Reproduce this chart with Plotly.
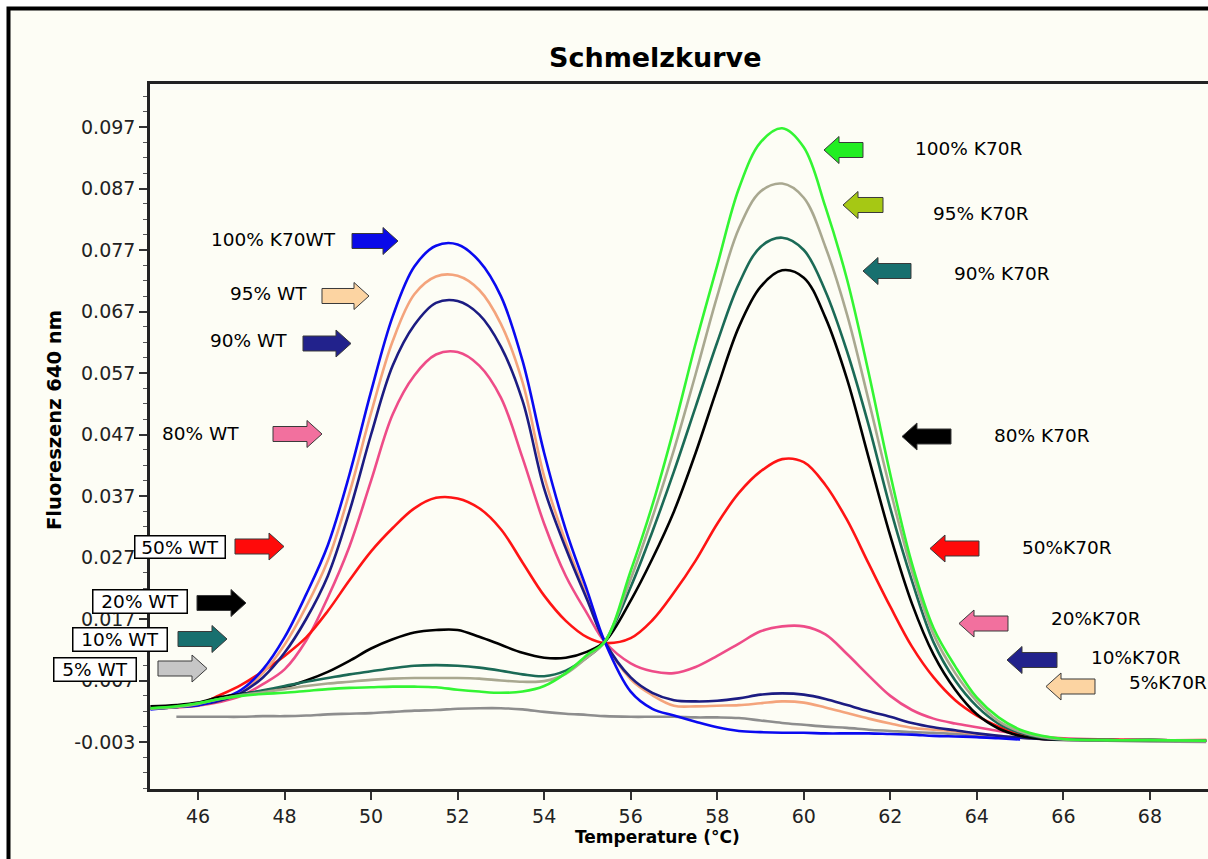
import plotly.graph_objects as go

# ---------------- data ----------------
temp = [44.9, 45.5, 46, 46.5, 47, 47.5, 48, 48.5, 49, 49.5, 50, 50.5, 51, 51.5, 52, 52.5,
        53, 53.5, 54, 54.5, 55, 55.4, 56, 56.5, 57, 57.5, 58, 58.5, 59, 59.5, 60, 60.5,
        61, 61.5, 62, 62.5, 63, 63.5, 64, 64.5, 65, 65.5, 66, 67, 68, 69.3]

wt100 = [0.0023, 0.0027, 0.0030, 0.0039, 0.0055, 0.0088, 0.0140, 0.0210, 0.0290, 0.0405, 0.0540, 0.0662,
         0.0743, 0.0777, 0.0779, 0.0752, 0.0695, 0.0590, 0.0440, 0.0315, 0.0215, 0.0133, 0.0052, 0.0024,
         0.0013, 0.0003, -0.0006, -0.0012, -0.0014, -0.0015, -0.0015, -0.0016, -0.0016, -0.0016, -0.0017,
         -0.0018, -0.0020, -0.0021, -0.0022, -0.0024, -0.0026, None, None, None, None, None]

wt95 = [0.0024, 0.0027, 0.0030, 0.0038, 0.0052, 0.0082, 0.0128, 0.0190, 0.0265, 0.0375, 0.0505, 0.0622,
        0.0698, 0.0727, 0.0728, 0.0705, 0.0650, 0.0555, 0.0402, 0.0295, 0.0205, 0.0133, 0.0072, 0.0046,
        0.0029, 0.0028, 0.0029, 0.0030, 0.0033, 0.0036, 0.0034, 0.0026, 0.0017, 0.0008, 0.0000, -0.0007,
        -0.0010, -0.0013, -0.0017, -0.0020, -0.0023, -0.0025, -0.0026, -0.0027, -0.0027, -0.0028]

wt90 = [0.0024, 0.0027, 0.0030, 0.0037, 0.0050, 0.0075, 0.0115, 0.0170, 0.0240, 0.0345, 0.0470, 0.0582,
        0.0648, 0.0684, 0.0687, 0.0665, 0.0613, 0.0525, 0.0382, 0.0285, 0.0200, 0.0133, 0.0075, 0.0050,
        0.0038, 0.0036, 0.0037, 0.0041, 0.0047, 0.0049, 0.0047, 0.0040, 0.0030, 0.0020, 0.0011, 0.0001,
        -0.0006, -0.0011, -0.0016, -0.0020, -0.0023, -0.0025, -0.0026, -0.0027, -0.0027, -0.0028]

wt80 = [0.0024, 0.0026, 0.0029, 0.0035, 0.0045, 0.0064, 0.0088, 0.0135, 0.0205, 0.0288, 0.0395, 0.0503,
        0.0566, 0.0600, 0.0604, 0.0582, 0.0530, 0.0432, 0.0325, 0.0240, 0.0178, 0.0133, 0.0098, 0.0085,
        0.0082, 0.0092, 0.0110, 0.0130, 0.0150, 0.0158, 0.0158, 0.0145, 0.0113, 0.0078, 0.0045, 0.0022,
        0.0008, 0.0000, -0.0006, -0.0012, -0.0017, -0.0021, -0.0024, -0.0026, -0.0027, -0.0028]

wt50 = [0.0024, 0.0027, 0.0031, 0.0046, 0.0063, 0.0085, 0.0110, 0.0140, 0.0183, 0.0233, 0.0280, 0.0318,
        0.0350, 0.0367, 0.0366, 0.0350, 0.0316, 0.0262, 0.0208, 0.0167, 0.0140, 0.0131, 0.0139, 0.0168,
        0.0213, 0.0265, 0.0325, 0.0375, 0.0410, 0.0430, 0.0425, 0.0388, 0.0331, 0.0260, 0.0190, 0.0125,
        0.0075, 0.0038, 0.0013, -0.0005, -0.0018, -0.0023, -0.0025, -0.0026, -0.0027, -0.0027]

wt20 = [0.0028, 0.0030, 0.0034, 0.0043, 0.0048, 0.0053, 0.0059, 0.0070, 0.0084, 0.0102, 0.0122, 0.0137,
        0.0148, 0.0152, 0.0152, 0.0141, 0.0128, 0.0115, 0.0107, 0.0107, 0.0117, 0.0133, 0.0200, 0.0268,
        0.0345, 0.0440, 0.0545, 0.0645, 0.0710, 0.0737, 0.0725, 0.0660, 0.0560, 0.0432, 0.0305, 0.0195,
        0.0112, 0.0055, 0.0015, -0.0008, -0.0020, -0.0025, -0.0026, -0.0027, -0.0027, -0.0028]

wt10 = [0.0024, 0.0027, 0.0032, 0.0040, 0.0047, 0.0054, 0.0061, 0.0068, 0.0074, 0.0080, 0.0085, 0.0090,
        0.0094, 0.0095, 0.0094, 0.0091, 0.0086, 0.0080, 0.0077, 0.0086, 0.0108, 0.0133, 0.0222, 0.0312,
        0.0410, 0.0515, 0.0620, 0.0715, 0.0775, 0.0790, 0.0770, 0.0703, 0.0605, 0.0485, 0.0350, 0.0232,
        0.0132, 0.0070, 0.0028, 0.0000, -0.0015, -0.0023, -0.0026, -0.0027, -0.0027, -0.0028]

wt5 = [0.0024, 0.0027, 0.0032, 0.0040, 0.0046, 0.0051, 0.0056, 0.0061, 0.0065, 0.0068, 0.0071, 0.0073,
       0.0074, 0.0074, 0.0074, 0.0073, 0.0070, 0.0068, 0.0069, 0.0081, 0.0108, 0.0133, 0.0235, 0.0335,
       0.0445, 0.0568, 0.0695, 0.0805, 0.0865, 0.0878, 0.0855, 0.0775, 0.0665, 0.0525, 0.0380, 0.0248,
       0.0145, 0.0082, 0.0036, 0.0004, -0.0013, -0.0022, -0.0026, -0.0027, -0.0027, -0.0028]

k70r100 = [0.0025, 0.0028, 0.0033, 0.0040, 0.0045, 0.0048, 0.0050, 0.0053, 0.0056, 0.0058, 0.0059, 0.0060,
           0.0060, 0.0059, 0.0055, 0.0052, 0.0050, 0.0052, 0.0061, 0.0082, 0.0112, 0.0133, 0.0248, 0.0355,
           0.0480, 0.0618, 0.0745, 0.0870, 0.0945, 0.0968, 0.0937, 0.0840, 0.0722, 0.0570, 0.0405, 0.0260,
           0.0155, 0.0093, 0.0042, 0.0010, -0.0010, -0.0020, -0.0025, -0.0027, -0.0027, -0.0028]

control = [None, 0.0011, 0.0011, 0.0011, 0.0011, 0.0012, 0.0012, 0.0013, 0.0015, 0.0016, 0.0017, 0.0019,
           0.0021, 0.0022, 0.0024, 0.0025, 0.0025, 0.0023, 0.0019, 0.0016, 0.0014, 0.0012, 0.0011, 0.0011,
           0.0011, 0.0010, 0.0010, 0.0009, 0.0005, 0.0001, -0.0002, -0.0005, -0.0007, -0.0010, -0.0012,
           -0.0014, -0.0015, -0.0017, -0.0019, -0.0021, -0.0023, -0.0025, -0.0027, -0.0028, -0.0029, -0.0030]

series = [
    ("control", control, "#8e8e8e"),
    ("80% WT / 20% K70R", wt80, "#ee4c88"),
    ("50% WT / 50% K70R", wt50, "#ff1414"),
    ("95% WT / 5% K70R", wt95, "#f4a47c"),
    ("90% WT / 10% K70R", wt90, "#1c1c82"),
    ("100% K70WT", wt100, "#0a0af0"),
    ("20% WT / 80% K70R", wt20, "#000000"),
    ("10% WT / 90% K70R", wt10, "#1b6a56"),
    ("5% WT / 95% K70R", wt5, "#a9a890"),
    ("100% K70R", k70r100, "#33f533"),
]

x_tick_values = [46, 48, 50, 52, 54, 56, 58, 60, 62, 64, 66, 68]
x_tick_labels = ["46", "48", "50", "52", "54", "56", "58", "60", "62", "64", "66", "68"]
y_tick_values = [-0.003, 0.007, 0.017, 0.027, 0.037, 0.047, 0.057, 0.067, 0.077, 0.087, 0.097]
y_tick_labels = ["-0.003", "0.007", "0.017", "0.027", "0.037", "0.047", "0.057", "0.067", "0.077",
                 "0.087", "0.097"]

left_labels = [
    ("100% K70WT", False, "#0a0ae8"),
    ("95% WT", False, "#fcd4a2"),
    ("90% WT", False, "#22228c"),
    ("80% WT", False, "#f2709e"),
    ("50% WT", True, "#ff0a0a"),
    ("20% WT", True, "#000000"),
    ("10% WT", True, "#18706f"),
    ("5% WT", True, "#c6c6c6"),
]
right_labels = [
    ("100% K70R", "#22ee22"),
    ("95% K70R", "#a6c814"),
    ("90% K70R", "#18706f"),
    ("80% K70R", "#000000"),
    ("50%K70R", "#ff0a0a"),
    ("20%K70R", "#f2709e"),
    ("10%K70R", "#22228c"),
    ("5%K70R", "#fcd4a2"),
]

# ---------------- layout geometry (pixels) ----------------
W_IMG, H_IMG = 1208, 859
L, R_EDGE, T, B = 150, 1208, 84, 789
PW, PH = R_EDGE - L, B - T


def pp(px, py):
    return (px - L) / PW, (B - py) / PH


X_PER_PX = 1 / 43.27
x0 = 46 - (198 - L) * X_PER_PX
x1 = x0 + PW * X_PER_PX
Y_PER_PX = 0.01 / 61.5
y_top = 0.097 + (127 - T) * Y_PER_PX
y_bot = 0.097 - (B - 127) * Y_PER_PX

FONT = "DejaVu Sans"

fig = go.Figure()
for name, vals, col in series:
    fig.add_trace(go.Scatter(x=temp, y=vals, mode="lines", name=name,
                             line=dict(color=col, width=2.6, shape="spline", smoothing=1.0),
                             connectgaps=False, hoverinfo="skip"))

shapes = []
annotations = []

# outer frame
fx0, fy0 = pp(8.5, 8.5)
fx1, fy1 = pp(1230, 880)
shapes.append(dict(type="rect", xref="paper", yref="paper", x0=fx0, y0=fy1, x1=fx1, y1=fy0,
                   line=dict(color="black", width=4), fillcolor="#fdfdf5", layer="below"))


def block_arrow(x_tail, x_tip, yc, fill, bh=7.5, hh=13.5, hl=15):
    s = 1 if x_tip > x_tail else -1
    xb = x_tip - s * hl
    pts = [(x_tail, yc - bh), (xb, yc - bh), (xb, yc - hh), (x_tip, yc),
           (xb, yc + hh), (xb, yc + bh), (x_tail, yc + bh)]
    d = "M " + " L ".join("%.5f,%.5f" % pp(a, b) for a, b in pts) + " Z"
    return dict(type="path", xref="paper", yref="paper", path=d, fillcolor=fill,
                line=dict(color="#3a3a3a", width=1), layer="above")


left_pos = [
    (209, 239, None, (352, 398, 241)),
    (228, 293, None, (322, 369, 296)),
    (208, 340, None, (303, 351, 343.5)),
    (160, 433, None, (273, 322, 434)),
    (179.5, 546.5, (93, 25), (235, 284, 546.5)),
    (139.5, 601, (97, 26), (197, 246, 603)),
    (119.5, 639, (97, 26), (178, 227, 639)),
    (94.5, 669, (85, 26), (158, 207, 668.5)),
]
for (txt, boxed, col), (tx, ty, box, arr) in zip(left_labels, left_pos):
    shapes.append(block_arrow(arr[0], arr[1], arr[2], col))
    ax, ay = pp(tx, ty)
    if boxed:
        annotations.append(dict(text=txt, x=ax, y=ay, xref="paper", yref="paper", showarrow=False,
                                xanchor="center", yanchor="middle", width=box[0] - 4, height=box[1] - 4,
                                bgcolor="white", bordercolor="black", borderwidth=1.5, borderpad=0,
                                font=dict(family=FONT, size=18.5, color="black")))
    else:
        annotations.append(dict(text=txt, x=ax, y=ay, xref="paper", yref="paper", showarrow=False,
                                xanchor="left", yanchor="middle",
                                font=dict(family=FONT, size=18.5, color="black")))

right_pos = [
    (913, 148, (863, 824, 150)),
    (931, 213, (883, 843, 205)),
    (952, 273, (911, 863, 271)),
    (992, 435, (951, 902, 436.5)),
    (1020, 547, (979, 930, 548.5)),
    (1049, 618, (1008, 959, 623.5)),
    (1089, 657, (1057, 1007, 660)),
    (1127, 682, (1095, 1046, 686.5)),
]
for (txt, col), (tx, ty, arr) in zip(right_labels, right_pos):
    shapes.append(block_arrow(arr[0], arr[1], arr[2], col))
    ax, ay = pp(tx, ty)
    annotations.append(dict(text=txt, x=ax, y=ay, xref="paper", yref="paper", showarrow=False,
                            xanchor="left", yanchor="middle",
                            font=dict(family=FONT, size=18.5, color="black")))

ax, ay = pp(54, 420)
annotations.append(dict(text="<b>Fluoreszenz 640 nm</b>", x=ax, y=ay, xref="paper", yref="paper",
                        showarrow=False, textangle=-90, xanchor="center", yanchor="middle",
                        font=dict(family=FONT, size=19.5, color="black")))
ax, ay = pp(657, 837)
annotations.append(dict(text="<b>Temperature (°C)</b>", x=ax, y=ay, xref="paper", yref="paper",
                        showarrow=False, xanchor="center", yanchor="middle",
                        font=dict(family=FONT, size=17, color="black")))
ax, ay = pp(655, 58)
annotations.append(dict(text="<b>Schmelzkurve</b>", x=ax, y=ay, xref="paper", yref="paper",
                        showarrow=False, xanchor="center", yanchor="middle",
                        font=dict(family=FONT, size=27, color="black")))

fig.update_layout(
    width=W_IMG, height=H_IMG,
    margin=dict(l=L, r=W_IMG - R_EDGE, t=T, b=H_IMG - B, pad=0),
    paper_bgcolor="white", plot_bgcolor="white",
    showlegend=False, hovermode=False,
    shapes=shapes, annotations=annotations,
    xaxis=dict(range=[x0, x1], tickmode="array", tickvals=x_tick_values, ticktext=x_tick_labels,
               ticks="outside", ticklen=8, tickwidth=1.5, tickcolor="#333", showline=True,
               linecolor="#222", linewidth=2.5, mirror=True, showgrid=False, zeroline=False,
               tickfont=dict(family=FONT, size=19, color="#222")),
    yaxis=dict(range=[y_bot, y_top], tickmode="array", tickvals=y_tick_values, ticktext=y_tick_labels,
               ticks="outside", ticklen=8, tickwidth=1.5, tickcolor="#333",
               minor=dict(tickmode="linear", dtick=0.0025, tick0=-0.003, ticks="outside", ticklen=4,
                          tickcolor="#555", tickwidth=1, showgrid=False),
               showline=True, linecolor="#222", linewidth=2.5, showgrid=False, zeroline=False,
               tickfont=dict(family=FONT, size=19, color="#222")),
)

fig.write_html("out.html")
